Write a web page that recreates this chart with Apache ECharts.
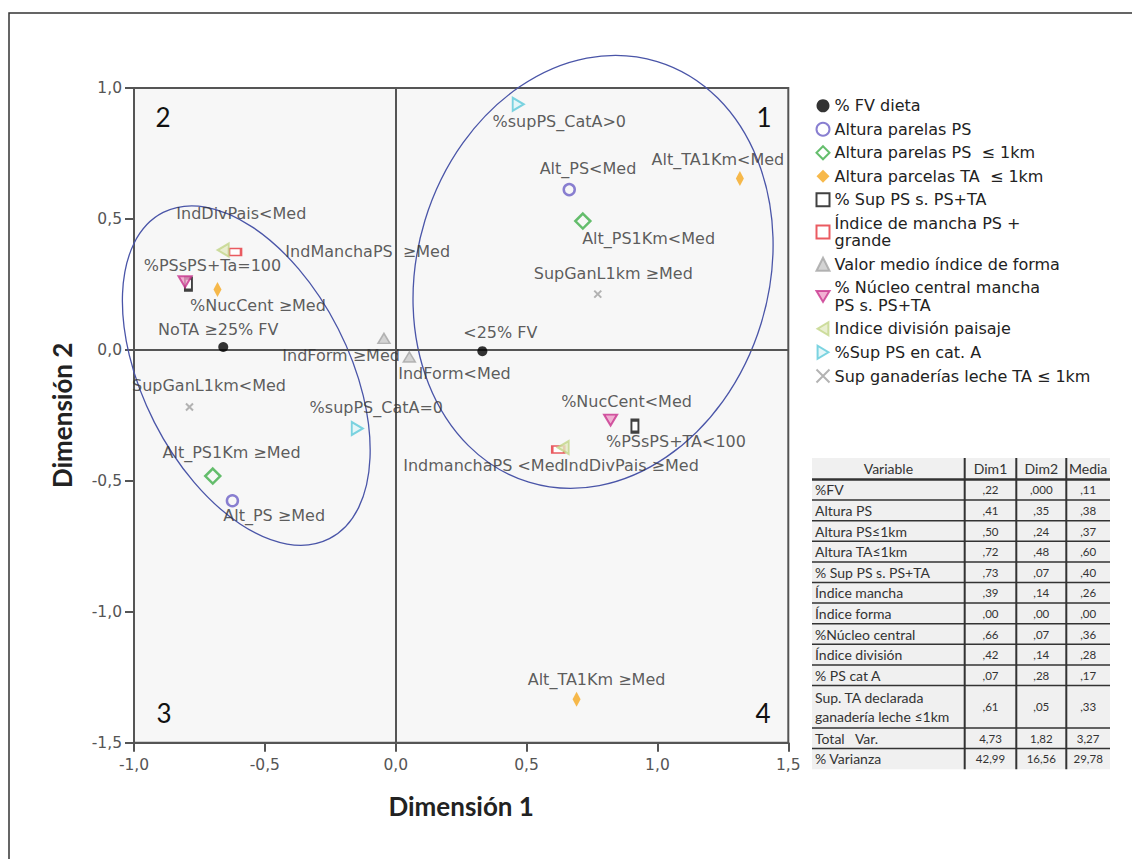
<!DOCTYPE html>
<html><head><meta charset="utf-8">
<script src="https://cdn.jsdelivr.net/npm/echarts@6/dist/echarts.min.js"></script>
<style>html,body{margin:0;padding:0;background:#fff}#c{width:1132px;height:859px}</style>
</head><body><div id="c"></div>
<script>
// ---- data ----
const seriesNames = [
  '% FV dieta',
  'Altura parelas PS',
  'Altura parelas PS  ≤ 1km',
  'Altura parcelas TA  ≤ 1km',
  '% Sup PS s. PS+TA',
  'Índice de mancha PS +\ngrande',
  'Valor medio índice de forma',
  '% Núcleo central mancha\nPS s. PS+TA',
  'Indice división paisaje',
  '%Sup PS en cat. A',
  'Sup ganaderías leche TA ≤ 1km'
];
const fvDieta      = [['NoTA ≥25% FV', -0.659, 0.011], ['<25% FV', 0.331, -0.005]];
const alturaPS     = [['Alt_PS<Med', 0.663, 0.612], ['Alt_PS ≥Med', -0.624, -0.576]];
const alturaPS1km  = [['Alt_PS1Km<Med', 0.715, 0.492], ['Alt_PS1Km ≥Med', -0.699, -0.482]];
const alturaTA1km  = [['Alt_TA1Km<Med', 1.315, 0.654], ['Alt_TA1Km ≥Med', 0.691, -1.334], ['', -0.681, 0.231]];
const supPSsPSTA   = [['%PSsPS+Ta=100', -0.792, 0.251], ['%PSsPS+TA<100', 0.914, -0.291]];
const indMancha    = [['IndManchaPS  ≥Med', -0.614, 0.374], ['IndmanchaPS <Med', 0.621, -0.380]];
const indForma     = [['IndForm ≥Med', -0.045, 0.044], ['IndForm<Med', 0.052, -0.027]];
const nucleoCentral= [['%NucCent ≥Med', -0.805, 0.260], ['%NucCent<Med', 0.821, -0.268]];
const indDivision  = [['IndDivPais<Med', -0.659, 0.381], ['IndDivPais ≥Med', 0.640, -0.373]];
const supCatA      = [['%supPS_CatA>0', 0.468, 0.938], ['%supPS_CatA=0', -0.147, -0.300]];
const supGanaderia = [['SupGanL1km ≥Med', 0.772, 0.213], ['SupGanL1km<Med', -0.788, -0.218]];
// ellipses: centre x, centre y, semi-axis x, semi-axis y, rotation (deg)
const ellipseLeft  = [-0.571, -0.098, 0.394, 0.699, 27];
const ellipseRight = [0.754, 0.298, 0.672, 0.840, -17];
const quadrantLabels = ['2', '1', '3', '4'];
const xTicks = [-1.0, -0.5, 0.0, 0.5, 1.0, 1.5];
const yTicks = [-1.5, -1.0, -0.5, 0.0, 0.5, 1.0];
// table
const tableHeader = ['Variable', 'Dim1', 'Dim2', 'Media'];
const tableVariables = ['%FV', 'Altura PS', 'Altura PS≤1km', 'Altura TA≤1km', '% Sup PS s. PS+TA', 'Índice mancha', 'Índice forma', '%Núcleo central', 'Índice división', '% PS cat A', 'Sup. TA declarada\nganadería leche ≤1km', 'Total   Var.', '% Varianza'];
const tableDim1  = [',22', ',41', ',50', ',72', ',73', ',39', ',00', ',66', ',42', ',07', ',61', '4,73', '42,99'];
const tableDim2  = [',000', ',35', ',24', ',48', ',07', ',14', ',00', ',07', ',14', ',28', ',05', '1,82', '16,56'];
const tableMedia = [',11', ',38', ',37', ',60', ',40', ',26', ',00', ',36', ',28', ',17', ',33', '3,27', '29,78'];

// ---- label placement (pixel offsets of label centre from point) ----
const labelOffsets = {
  'NoTA ≥25% FV': [-5, -17], '<25% FV': [18, -19],
  'Alt_PS<Med': [20, -20], 'Alt_PS ≥Med': [43, 16],
  'Alt_PS1Km<Med': [67, 19], 'Alt_PS1Km ≥Med': [20, -22],
  'Alt_TA1Km<Med': [-22, -19], 'Alt_TA1Km ≥Med': [20, -20],
  '%PSsPS+Ta=100': [25, -17], '%PSsPS+TA<100': [42, 17],
  'IndManchaPS  ≥Med': [134, 0], 'IndmanchaPS <Med': [-73, 17],
  'IndForm ≥Med': [-42, 18], 'IndForm<Med': [46, 17],
  '%NucCent ≥Med': [74, 25], '%NucCent<Med': [17, -18],
  'IndDivPais<Med': [19, -36], 'IndDivPais ≥Med': [69, 19],
  '%supPS_CatA>0': [42, 18], '%supPS_CatA=0': [20, -20],
  'SupGanL1km ≥Med': [18, -18], 'SupGanL1km<Med': [22, -19]
};

// ---- styles ----
const triDown  = 'path://M0,0L12,0L6,10Z';
const triLeft  = 'path://M10,0L10,12L0,6Z';
const triRight = 'path://M0,0L0,12L10,6Z';
const seriesStyles = [
  {symbol: 'circle', size: [10, 10], item: {color: '#000'}},
  {symbol: 'circle', size: [11, 11], item: {color: 'rgba(0,0,0,0)', borderColor: '#6b5fc6', borderWidth: 2.5}},
  {symbol: 'diamond', size: [15, 15], item: {color: 'rgba(0,0,0,0)', borderColor: '#3fae49', borderWidth: 2.5}},
  {symbol: 'diamond', size: [8, 15], item: {color: '#f5a81e'}},
  {symbol: 'rect', size: [7, 12], item: {color: '#ffffff', borderColor: '#111', borderWidth: 2.5}},
  {symbol: 'rect', size: [12, 7], item: {color: '#ffffff', borderColor: '#e5323a', borderWidth: 2}},
  {symbol: 'triangle', size: [12, 10], item: {color: '#c9c9c9', borderColor: '#a5a5a5', borderWidth: 1.5}},
  {symbol: triDown, size: [13, 11], item: {color: '#ef9cc8', borderColor: '#c8338d', borderWidth: 2}},
  {symbol: triLeft, size: [11, 13], item: {color: '#e3ebc4', borderColor: '#c3d68a', borderWidth: 2}},
  {symbol: triRight, size: [11, 13], item: {color: '#dff5f8', borderColor: '#5cc9d9', borderWidth: 2}},
  {symbol: 'path://M0,0L10,10M10,0L0,10', size: [7, 7], item: {color: 'none', borderColor: '#a0a0a0', borderWidth: 2}}
];
const seriesData = [fvDieta, alturaPS, alturaPS1km, alturaTA1km, supPSsPSTA, indMancha, indForma, nucleoCentral, indDivision, supCatA, supGanaderia];

const labelFont = 'DejaVu Sans';
const fmt = v => v.toFixed(1).replace('.', ',');

const series = seriesData.map((arr, i) => {
  const st = seriesStyles[i];
  const s = {
    name: seriesNames[i], type: 'scatter', symbol: st.symbol, symbolSize: st.size,
    itemStyle: st.item, z: 5,
    data: arr.map(d => {
      const off = labelOffsets[d[0]] || [0, 0];
      return {
        name: d[0], value: [d[1], d[2]],
        label: {show: d[0] !== '', position: [st.size[0] / 2 + off[0], st.size[1] / 2 + off[1]],
          align: 'center', verticalAlign: 'middle'}
      };
    }),
    label: {formatter: '{b}', fontFamily: labelFont, fontSize: 16, color: '#333', align: 'center', verticalAlign: 'middle'},
    labelLayout: {hideOverlap: false},
    emphasis: {disabled: true}
  };
  if (i === 0) {
    s.markLine = {silent: true, symbol: 'none', animation: false, label: {show: false},
      lineStyle: {color: '#555', width: 2, type: 'solid'}, data: [{xAxis: 0}, {yAxis: 0}]};
  }
  return s;
});

series.push({
  type: 'custom', coordinateSystem: 'cartesian2d', silent: true, z: 4, clip: false,
  data: [ellipseLeft, ellipseRight],
  renderItem: (params, api) => {
    const c = api.coord([api.value(0), api.value(1)]);
    const sx = api.size([api.value(2), 0])[0];
    const sy = api.size([0, api.value(3)])[1];
    return {type: 'ellipse', x: c[0], y: c[1], rotation: api.value(4) * Math.PI / 180,
      shape: {cx: 0, cy: 0, rx: sx, ry: sy},
      style: {fill: 'none', stroke: '#4a55a8', lineWidth: 1.3}};
  }
});

// ---- table graphic ----
function buildTable() {
  const colX = [812, 964.7, 1016.3, 1066.3, 1110];
  const top = 458, headH = 21.5, rowH = 20.6;
  const heights = tableVariables.map(v => v.indexOf('\n') >= 0 ? 42.5 : rowH);
  const totalH = headH + heights.reduce((a, b) => a + b, 0);
  const els = [];
  els.push({type: 'rect', silent: true, shape: {x: colX[0], y: top, width: colX[4] - colX[0], height: totalH}, style: {fill: '#f0f0f0'}});
  tableHeader.forEach((h, j) => {
    els.push({type: 'text', silent: true, x: (colX[j] + colX[j + 1]) / 2, y: top + headH / 2,
      style: {text: h, fontFamily: 'Lato', fontSize: 14, fill: '#333', align: 'center', verticalAlign: 'middle'}});
  });
  let y = top + headH;
  els.push({type: 'line', silent: true, shape: {x1: colX[0], y1: y, x2: colX[4], y2: y}, style: {stroke: '#333', lineWidth: 2.5}});
  tableVariables.forEach((v, i) => {
    const h = heights[i], cy = y + h / 2;
    els.push({type: 'text', silent: true, x: colX[0] + 3, y: cy,
      style: {text: v, fontFamily: 'Lato', fontSize: 14, lineHeight: 19, fill: '#333', align: 'left', verticalAlign: 'middle'}});
    [tableDim1[i], tableDim2[i], tableMedia[i]].forEach((t, j) => {
      els.push({type: 'text', silent: true, x: (colX[j + 1] + colX[j + 2]) / 2, y: cy,
        style: {text: t, fontFamily: 'Lato', fontSize: 11.5, fill: '#333', align: 'center', verticalAlign: 'middle'}});
    });
    y += h;
    if (i < tableVariables.length - 1) {
      els.push({type: 'line', silent: true, shape: {x1: colX[0], y1: y, x2: colX[4], y2: y}, style: {stroke: '#333', lineWidth: 1.5}});
    }
  });
  for (let j = 1; j <= 3; j++) {
    els.push({type: 'line', silent: true, shape: {x1: colX[j], y1: top, x2: colX[j], y2: top + totalH}, style: {stroke: '#333', lineWidth: 2}});
  }
  return els;
}

const quadPos = [[163, 117], [764, 117], [164, 713], [763, 713]];
const quadText = quadrantLabels.map((q, i) => ({type: 'text', silent: true, x: quadPos[i][0], y: quadPos[i][1],
  style: {text: q, fontFamily: 'Lato', fontSize: 26, fill: '#111', align: 'center', verticalAlign: 'middle'}}));

const axisCommon = {
  type: 'value', interval: 0.5, splitLine: {show: false},
  axisLine: {onZero: false, lineStyle: {color: '#555', width: 2}},
  axisTick: {length: 9, lineStyle: {color: '#555', width: 2}},
  axisLabel: {fontFamily: labelFont, fontSize: 15.5, color: '#555', formatter: fmt},
  nameLocation: 'middle',
  nameTextStyle: {fontFamily: 'Lato', fontWeight: 'bold', fontSize: 26, color: '#222'}
};

const chart = echarts.init(document.getElementById('c'), null, {renderer: 'svg'});
chart.setOption({
  animation: false,
  backgroundColor: '#fff',
  grid: {left: 134, right: 343.7, top: 88, bottom: 116.3, show: true, backgroundColor: '#f7f7f7', borderColor: '#555', borderWidth: 2},
  xAxis: Object.assign({}, axisCommon, {min: xTicks[0], max: xTicks[xTicks.length - 1], name: 'Dimensión 1', nameGap: 50,
    axisLabel: Object.assign({}, axisCommon.axisLabel, {margin: 14})}),
  yAxis: Object.assign({}, axisCommon, {min: yTicks[0], max: yTicks[yTicks.length - 1], name: 'Dimensión 2', nameGap: 59,
    axisLabel: Object.assign({}, axisCommon.axisLabel, {margin: 12})}),
  legend: {orient: 'vertical', left: 809, top: 92, itemWidth: 13, itemHeight: 13, itemGap: 6, selectedMode: false,
    textStyle: {fontFamily: labelFont, fontSize: 16, color: '#222', lineHeight: 17.5}, data: seriesNames},
  graphic: [
    {type: 'rect', silent: true, shape: {x: 9, y: 13, width: 1200, height: 900}, style: {fill: 'none', stroke: '#333', lineWidth: 1.5}, z: -10}
  ].concat(quadText, buildTable()),
  series: series
});
</script></body></html>
